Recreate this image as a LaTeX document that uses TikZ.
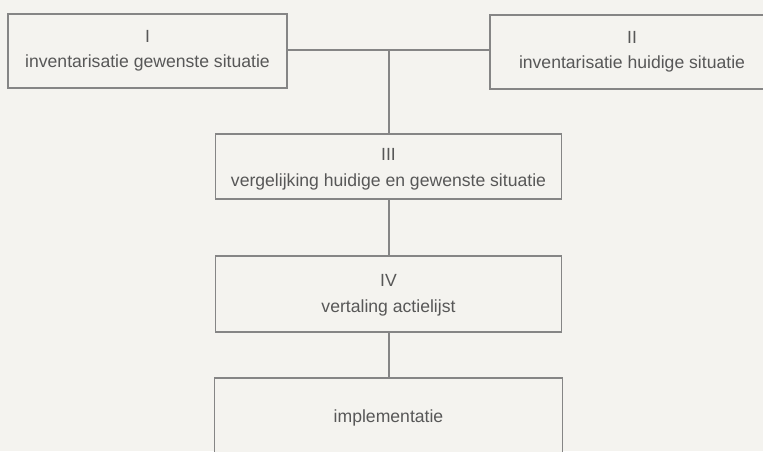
\documentclass[tikz,border=0pt]{standalone}
\usepackage{fontspec}
\setmainfont{Liberation Sans}
\definecolor{paper}{HTML}{F4F3EF}
\definecolor{rule}{HTML}{858585}
\definecolor{ink}{HTML}{575757}
\begin{document}
\begin{tikzpicture}[x=1pt,y=-1pt,
  stepbox/.style={draw=rule, line width=1.4pt, fill=paper, text=ink,
    align=center, inner sep=0pt, font=\fontsize{17.6}{25.5}\selectfont},
  link/.style={draw=rule, line width=1.4pt}]
  % page and frame
  \fill[paper] (0,0) rectangle (763,451);
  \useasboundingbox (0,0) rectangle (763,451);
  \clip (0,0) rectangle (763,451);

  % the five stages
  \node[stepbox, minimum width=279pt, minimum height=74pt] (inv1) at (147.5,51)
    {I\\inventarisatie gewenste situatie};
  \node[stepbox, minimum width=284pt, minimum height=74pt] (inv2) at (632,52)
    {II\\inventarisatie huidige situatie};
  \node[stepbox, minimum width=346pt, minimum height=65pt] (cmp) at (388.5,166.5)
    {\rule{0pt}{18pt}III\\vergelijking huidige en gewenste situatie};
  \node[stepbox, minimum width=346pt, minimum height=76pt] (act) at (388.5,294)
    {\rule{0pt}{15pt}IV\\vertaling actielijst};
  \node[stepbox, minimum width=348pt, minimum height=80pt] (impl) at (388.5,418)
    {implementatie};

  % connectors
  \coordinate (join) at (389,50);
  \draw[link] (inv1.east |- join) -- (inv2.west |- join);
  \draw[link] (join) -- (cmp.north -| join);
  \draw[link] (cmp.south -| join) -- (act.north -| join);
  \draw[link] (act.south -| join) -- (impl.north -| join);
\end{tikzpicture}
\end{document}
